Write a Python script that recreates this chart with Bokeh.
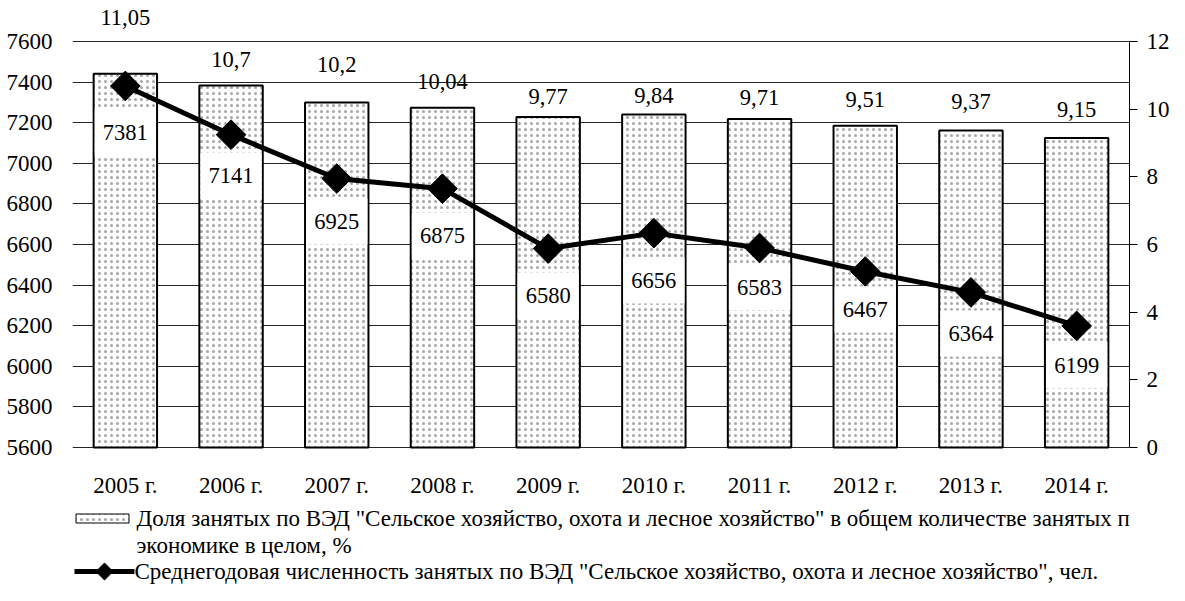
import numpy as np
from bokeh.plotting import figure
from bokeh.models import Range1d, LinearAxis, FixedTicker, ColumnDataSource
from bokeh.core.properties import value
from bokeh.embed import file_html
from bokeh.resources import INLINE

# ---- data ----
years = ["2005 г.", "2006 г.", "2007 г.", "2008 г.", "2009 г.",
         "2010 г.", "2011 г.", "2012 г.", "2013 г.", "2014 г."]
share_pct = [11.05, 10.7, 10.2, 10.04, 9.77, 9.84, 9.71, 9.51, 9.37, 9.15]
employed = [7381, 7141, 6925, 6875, 6580, 6656, 6583, 6467, 6364, 6199]

left_ticks = [5600, 5800, 6000, 6200, 6400, 6600, 6800, 7000, 7200, 7400, 7600]
right_ticks = [0, 2, 4, 6, 8, 10, 12]

legend_bar_1 = 'Доля занятых по ВЭД "Сельское хозяйство, охота и лесное хозяйство" в общем количестве занятых по'
legend_bar_2 = 'экономике в целом, %'
legend_line = 'Среднегодовая численность занятых по ВЭД "Сельское хозяйство, охота и лесное хозяйство", чел.'

# label placement (layout only, axis units)
bar_label_pos = [12.71, 11.47, 11.32, 10.82, 10.38, 10.41, 10.35, 10.29, 10.23, 9.99]
line_label_pos = [7152, 6940, 6713, 6644, 6349, 6423, 6388, 6280, 6162, 6004]

FONT = "Liberation Serif"
FS = "23px"
DFS = "22.5px"
LFS = "23px"

# geometry (pixels): figure height, top of value axis, axis span
H = 585
TOP_PX, SPAN_PX = 41, 406
FRAME_W, LEFT_B = 1057, 72
BELOW_PX = H - TOP_PX - SPAN_PX
y_lo = 5600 - 2000 * BELOW_PX / SPAN_PX
y_hi = 7600 + 2000 * TOP_PX / SPAN_PX
p_lo = -12 * BELOW_PX / SPAN_PX
p_hi = 12 + 12 * TOP_PX / SPAN_PX
N = len(years)
xc = [i + 0.5 for i in range(N)]          # category centres on the x scale


def px_x(fig_px):
    """figure pixel -> x data units (for legend placement)"""
    return (fig_px - LEFT_B) * N / FRAME_W


HATCH = dict(hatch_pattern="dot", hatch_scale=6, hatch_weight=0.5,
             hatch_color="black", hatch_alpha=0.35)

p = figure(frame_width=FRAME_W, frame_height=H,
           x_range=Range1d(0, N),
           y_range=Range1d(y_lo, y_hi), output_backend="svg", toolbar_location=None,
           min_border_left=LEFT_B, min_border_right=40, min_border_top=0, min_border_bottom=0)
p.extra_y_ranges = {"pct": Range1d(p_lo, p_hi), "px": Range1d(H, 0)}
p.outline_line_color = None
p.background_fill_color = "white"
p.xaxis.visible = False

# left axis
ya = p.yaxis[0]
ya.ticker = FixedTicker(ticks=left_ticks)
ya.axis_line_color = None
ya.major_tick_line_color = None
ya.minor_tick_line_color = None
ya.major_tick_out = 0
ya.major_tick_in = 0
ya.major_label_standoff = 20
ya.major_label_text_font = FONT
ya.major_label_text_font_size = FS
ya.major_label_text_color = "black"

# right axis
ra = LinearAxis(y_range_name="pct", ticker=FixedTicker(ticks=right_ticks), bounds=(0, 12))
ra.axis_line_color = "black"
ra.axis_line_width = 1
ra.major_tick_line_color = "black"
ra.major_tick_out = 8
ra.major_tick_in = 0
ra.minor_tick_line_color = None
ra.major_label_standoff = 9
ra.major_label_text_font = FONT
ra.major_label_text_font_size = FS
ra.major_label_text_color = "black"
p.add_layout(ra, "right")

p.xgrid.grid_line_color = None
p.ygrid.ticker = FixedTicker(ticks=left_ticks)
p.ygrid.grid_line_color = "black"
p.ygrid.grid_line_width = 1
p.ygrid.grid_line_alpha = 0.85

src = ColumnDataSource(dict(
    x=xc, cat=years, pct=share_pct, emp=employed,
    pct_txt=[str(v).replace(".", ",") for v in share_pct],
    emp_txt=[str(v) for v in employed],
    bpos=bar_label_pos, lpos=line_label_pos, catpos=[485] * N,
))

p.vbar(x="x", top="pct", bottom=0, width=0.6, source=src, y_range_name="pct",
       fill_color="white", line_color="black", line_width=2, **HATCH)

p.line(x="x", y="emp", source=src, line_color="black", line_width=5)
p.scatter(x="x", y="emp", source=src, marker="square", angle=np.pi / 4, size=21,
          fill_color="black", line_color="black")

p.rect(x="x", y="lpos", width=0.58, height=46, height_units="screen", source=src,
       fill_color="white", line_color=None)
p.text(x="x", y="lpos", text="emp_txt", source=src, text_align="center",
       text_baseline="middle", text_font=value(FONT), text_font_size=value(DFS),
       text_color="black")
p.text(x="x", y="bpos", text="pct_txt", source=src, y_range_name="pct",
       text_align="center", text_baseline="middle", text_font=value(FONT),
       text_font_size=value(DFS), text_color="black")

# category labels under the value axis
p.text(x="x", y="catpos", text="cat", source=src, y_range_name="px",
       text_align="center", text_baseline="middle", text_font=value(FONT),
       text_font_size=value(FS), text_color="black")

# ---- legend (pixel rows of the figure) ----
ROW1, ROW2, ROW3 = 518, 545, 571
p.text(x=[px_x(136), px_x(136)], y=[ROW1, ROW2], text=[legend_bar_1, legend_bar_2],
       y_range_name="px", text_align="left", text_baseline="middle",
       text_font=value(FONT), text_font_size=value(LFS), text_color="black")
p.text(x=[px_x(134)], y=[ROW3], text=[legend_line],
       y_range_name="px", text_align="left", text_baseline="middle",
       text_font=value(FONT), text_font_size=value(LFS), text_color="black")
p.rect(x=[px_x(102)], y=[ROW1], width=53, height=9, width_units="screen",
       height_units="screen", y_range_name="px",
       fill_color="white", line_color="black", line_width=1, **HATCH)
p.line(x=[px_x(74), px_x(134)], y=[ROW3, ROW3], y_range_name="px",
       line_color="black", line_width=5)
p.scatter(x=[px_x(104)], y=[ROW3], y_range_name="px", marker="square",
          angle=np.pi / 4, size=12, fill_color="black", line_color="black")

open("out.html", "w").write(file_html(p, INLINE))
